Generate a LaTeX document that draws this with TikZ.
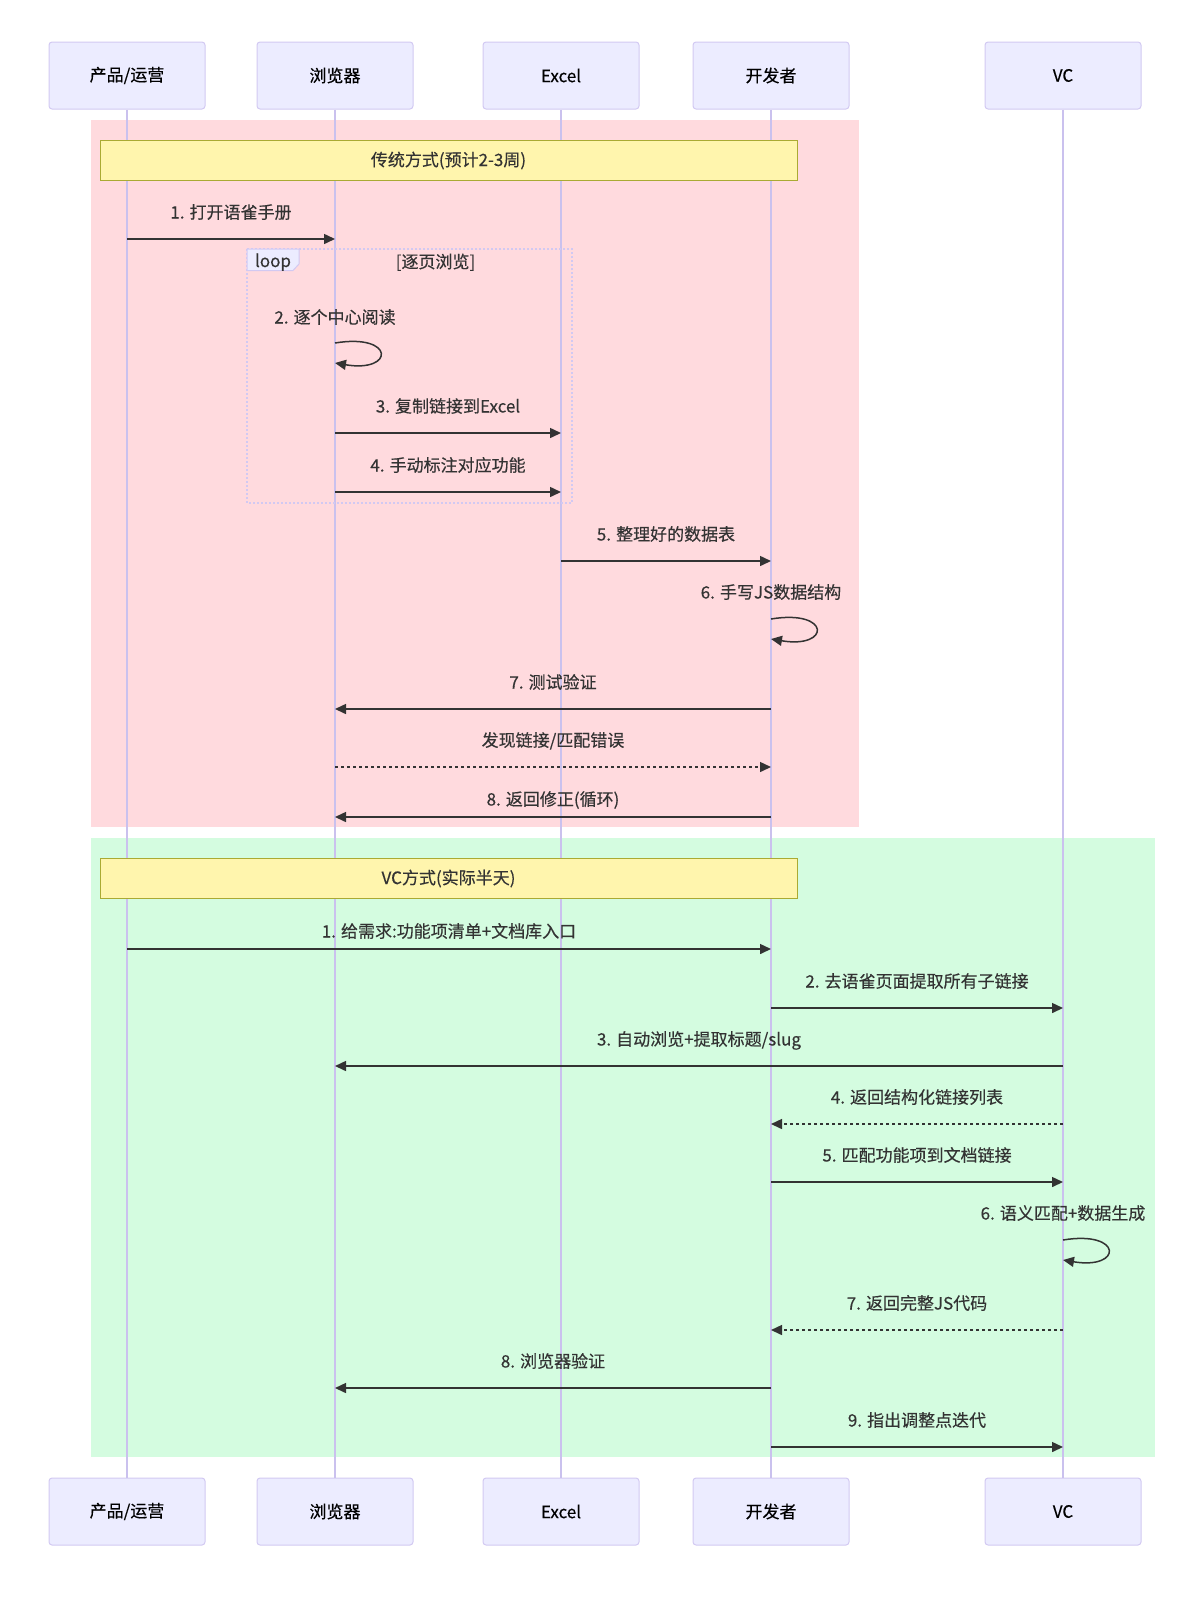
\documentclass[tikz,border=0pt]{standalone}
\usepackage{fontspec}
\setmainfont{Noto Sans CJK SC}[FakeBold=0.35]
\usetikzlibrary{arrows.meta}
\definecolor{actorfill}{HTML}{ECECFF}
\definecolor{actorborder}{HTML}{D2C9F2}
\definecolor{lifec}{HTML}{CAC1EE}
\definecolor{pinkbg}{RGB}{255,218,222}
\definecolor{greenbg}{RGB}{212,252,224}
\definecolor{notefill}{HTML}{FFF5AD}
\definecolor{noteborder}{HTML}{AAAA33}
\definecolor{msgc}{HTML}{333333}
\tikzset{
  actor/.style={draw=actorborder, fill=actorfill, rounded corners=3pt, line width=1pt,
    minimum width=156pt, minimum height=67pt, inner sep=0pt,
    font=\fontsize{17}{20}\selectfont, text=black},
  life/.style={draw=lifec, line width=1.5pt},
  notebox/.style={draw=noteborder, fill=notefill, line width=1pt,
    minimum width=697pt, minimum height=40pt, inner sep=0pt,
    font=\fontsize{17}{20}\selectfont, text=msgc},
  msg/.style={draw=msgc, line width=1.5pt, -{Triangle[length=11pt,width=10pt]}},
  dmsg/.style={msg, dash pattern=on 3pt off 3pt},
  lbl/.style={font=\fontsize{17}{20}\selectfont, text=msgc, inner sep=0pt, anchor=base},
  loopline/.style={draw=actorborder, line width=2pt, dash pattern=on 2pt off 2pt},
  looptab/.style={draw=actorborder, fill=actorfill, line width=1pt},
}
\begin{document}
\begin{tikzpicture}[x=1pt,y=-1pt]
\useasboundingbox (0,0) rectangle (1196,1604);
% background sections
\fill[pinkbg] (91,120) rectangle (859,827);
\fill[greenbg] (91,838) rectangle (1155,1457);
% actors
\node[actor] (pT) at (127,75.5) {产品/运营};
\node[actor] (bT) at (335,75.5) {浏览器};
\node[actor] (eT) at (561,75.5) {Excel};
\node[actor] (dT) at (771,75.5) {开发者};
\node[actor] (vT) at (1063,75.5) {VC};
\node[actor] (pB) at (127,1511.5) {产品/运营};
\node[actor] (bB) at (335,1511.5) {浏览器};
\node[actor] (eB) at (561,1511.5) {Excel};
\node[actor] (dB) at (771,1511.5) {开发者};
\node[actor] (vB) at (1063,1511.5) {VC};
% lifelines
\draw[life] (pT.south) -- (pB.north);
\draw[life] (bT.south) -- (bB.north);
\draw[life] (eT.south) -- (eB.north);
\draw[life] (dT.south) -- (dB.north);
\draw[life] (vT.south) -- (vB.north);
% notes
\node[notebox] (n1) at (448.5,160.5) {传统方式(预计2-3周)};
\node[notebox] (n2) at (448.5,878.5) {VC方式(实际半天)};
% loop frame
\draw[loopline] (247,249) rectangle (572,503);
\draw[looptab] (247,249) -- (299,249) -- (299,264) -- (293,270.5) -- (247,270.5) -- cycle;
\node[lbl] (looplbl) at (273,267) {loop};
\node[lbl] (loopcond) at (435.5,268) {[逐页浏览]};
% ---- traditional messages
\coordinate (r1a) at (127,239); \coordinate (r1b) at (335,239);
\draw[msg] (r1a) -- node[lbl, yshift=20.5pt] {1. 打开语雀手册} (r1b);
\coordinate (r2a) at (335,343); \coordinate (r2b) at (335,363);
\node[lbl] (r2l) at (335,323.5) {2. 逐个中心阅读};
\draw[msg] (r2a) .. controls (395,333) and (395,373) .. (r2b);
\coordinate (r3a) at (335,433); \coordinate (r3b) at (561,433);
\draw[msg] (r3a) -- node[lbl, yshift=20.5pt] {3. 复制链接到Excel} (r3b);
\coordinate (r4a) at (335,492); \coordinate (r4b) at (561,492);
\draw[msg] (r4a) -- node[lbl, yshift=20.5pt] {4. 手动标注对应功能} (r4b);
\coordinate (r5a) at (561,561); \coordinate (r5b) at (771,561);
\draw[msg] (r5a) -- node[lbl, yshift=20.5pt] {5. 整理好的数据表} (r5b);
\coordinate (r6a) at (771,619); \coordinate (r6b) at (771,639);
\node[lbl] (r6l) at (771,598.5) {6. 手写JS数据结构};
\draw[msg] (r6a) .. controls (831,609) and (831,649) .. (r6b);
\coordinate (r7a) at (771,709); \coordinate (r7b) at (335,709);
\draw[msg] (r7a) -- node[lbl, yshift=20.5pt] {7. 测试验证} (r7b);
\coordinate (r8a) at (335,767); \coordinate (r8b) at (771,767);
\draw[dmsg] (r8a) -- node[lbl, yshift=20.5pt] {发现链接/匹配错误} (r8b);
\coordinate (r9a) at (771,817); \coordinate (r9b) at (335,817);
\draw[msg] (r9a) -- node[lbl, yshift=11.5pt] {8. 返回修正(循环)} (r9b);
% ---- VC messages
\coordinate (g1a) at (127,949); \coordinate (g1b) at (771,949);
\draw[msg] (g1a) -- node[lbl, yshift=11.5pt] {1. 给需求:功能项清单+文档库入口} (g1b);
\coordinate (g2a) at (771,1008); \coordinate (g2b) at (1063,1008);
\draw[msg] (g2a) -- node[lbl, yshift=20.5pt] {2. 去语雀页面提取所有子链接} (g2b);
\coordinate (g3a) at (1063,1066); \coordinate (g3b) at (335,1066);
\draw[msg] (g3a) -- node[lbl, yshift=20.5pt] {3. 自动浏览+提取标题/slug} (g3b);
\coordinate (g4a) at (1063,1124); \coordinate (g4b) at (771,1124);
\draw[dmsg] (g4a) -- node[lbl, yshift=20.5pt] {4. 返回结构化链接列表} (g4b);
\coordinate (g5a) at (771,1182); \coordinate (g5b) at (1063,1182);
\draw[msg] (g5a) -- node[lbl, yshift=20.5pt] {5. 匹配功能项到文档链接} (g5b);
\coordinate (g6a) at (1063,1240); \coordinate (g6b) at (1063,1260);
\node[lbl] (g6l) at (1063,1219.5) {6. 语义匹配+数据生成};
\draw[msg] (g6a) .. controls (1123,1230) and (1123,1270) .. (g6b);
\coordinate (g7a) at (1063,1330); \coordinate (g7b) at (771,1330);
\draw[dmsg] (g7a) -- node[lbl, yshift=20.5pt] {7. 返回完整JS代码} (g7b);
\coordinate (g8a) at (771,1388); \coordinate (g8b) at (335,1388);
\draw[msg] (g8a) -- node[lbl, yshift=20.5pt] {8. 浏览器验证} (g8b);
\coordinate (g9a) at (771,1447); \coordinate (g9b) at (1063,1447);
\draw[msg] (g9a) -- node[lbl, yshift=20.5pt] {9. 指出调整点迭代} (g9b);
\end{tikzpicture}
\end{document}
